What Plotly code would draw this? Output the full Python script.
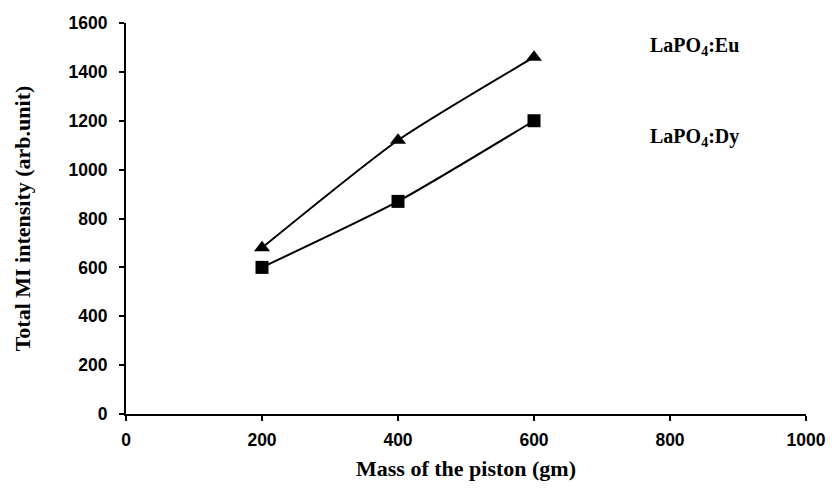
import plotly.graph_objects as go

mass = [200, 400, 600]
eu_intensity = [680, 1120, 1460]
dy_intensity = [600, 870, 1200]
x_ticks = [0, 200, 400, 600, 800, 1000]
y_ticks = [0, 200, 400, 600, 800, 1000, 1200, 1400, 1600]

fig = go.Figure()
fig.add_trace(go.Scatter(
    x=mass, y=eu_intensity, mode="lines+markers", name="LaPO4:Eu",
    line=dict(color="black", width=2, shape="spline", smoothing=0.6),
    marker=dict(symbol="triangle-up", size=14, color="black"),
))
fig.add_trace(go.Scatter(
    x=mass, y=dy_intensity, mode="lines+markers", name="LaPO4:Dy",
    line=dict(color="black", width=2, shape="spline", smoothing=0.6),
    marker=dict(symbol="square", size=13, color="black"),
))

tickfont = dict(family="Arial, Liberation Sans", size=17.5, color="black", weight="bold")
titlefont = dict(family="Times New Roman, Liberation Serif", size=22, color="black", weight="bold")
annfont = dict(family="Times New Roman, Liberation Serif", size=20, color="black", weight="bold")

fig.update_layout(
    width=838, height=494,
    margin=dict(l=126, r=25, t=23, b=80),
    paper_bgcolor="white", plot_bgcolor="white",
    showlegend=False,
    xaxis=dict(
        range=[0, 1000], tickvals=x_ticks, showgrid=False, zeroline=False,
        showline=True, linecolor="black", linewidth=2,
        ticks="outside", ticklen=5, tickwidth=2, tickcolor="black",
        tickfont=tickfont, ticklabelstandoff=4,
        title=dict(text="Mass of the piston (gm)", font=titlefont, standoff=12),
    ),
    yaxis=dict(
        range=[0, 1600], tickvals=y_ticks, showgrid=False, zeroline=False,
        showline=True, linecolor="black", linewidth=2,
        ticks="outside", ticklen=5, tickwidth=2, tickcolor="black",
        tickfont=tickfont, ticklabelstandoff=8,
        title=dict(text="Total MI intensity (arb.unit)", font=titlefont, standoff=32),
    ),
    annotations=[
        dict(text="LaPO<sub>4</sub>:Eu", xref="paper", yref="paper",
             x=(653 - 126) / 687, y=(414 - 47) / 391, xanchor="left", yanchor="middle",
             showarrow=False, font=annfont),
        dict(text="LaPO<sub>4</sub>:Dy", xref="paper", yref="paper",
             x=(653 - 126) / 687, y=(414 - 137) / 391, xanchor="left", yanchor="middle",
             showarrow=False, font=annfont),
    ],
)

fig.write_html("out.html")
